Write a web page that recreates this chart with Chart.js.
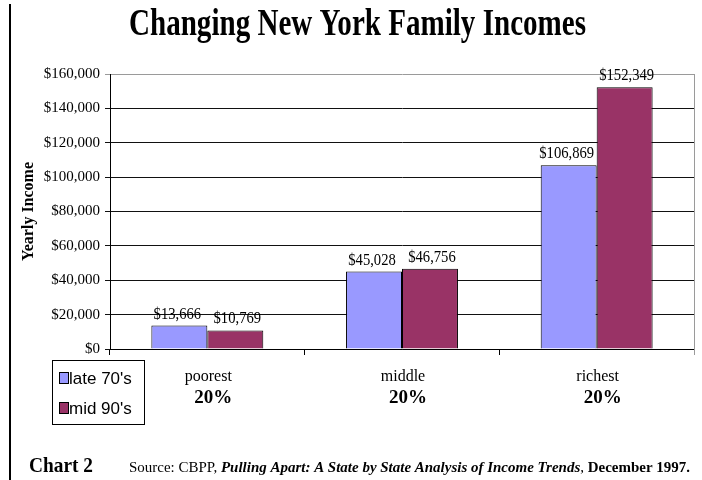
<!DOCTYPE html>
<html>
<head>
<meta charset="utf-8">
<script src="https://cdn.jsdelivr.net/npm/chart.js@4/dist/chart.umd.min.js"></script>
<style>
  html, body { margin: 0; padding: 0; background: #fff; }
  #wrap { width: 702px; height: 480px; }
</style>
</head>
<body>
<div id="wrap"><canvas id="c" width="702" height="480"></canvas></div>
<script>
// ---- data ----
const categories = ['poorest', 'middle', 'richest'];
const categorySub = ['20%', '20%', '20%'];
const seriesNames = ["late 70's", "mid 90's"];
const late70s = [13666, 45028, 106869];
const mid90s = [10769, 46756, 152349];
const yTickValues = [0, 20000, 40000, 60000, 80000, 100000, 120000, 140000, 160000];
const seriesColors = ['#9999FF', '#993366'];

const fmt = v => '$' + v.toLocaleString('en-US');
const SERIF = "'Liberation Serif', 'Times New Roman', serif";
const SANS = "'Liberation Sans', Arial, sans-serif";

function drawFitted(ctx, text, font, x, y, targetW) {
  ctx.font = font;
  const w = ctx.measureText(text).width;
  ctx.save();
  ctx.translate(x, y);
  ctx.scale(targetW / w, 1);
  ctx.fillText(text, 0, 0);
  ctx.restore();
}

const decor = {
  id: 'decor',
  afterDraw(chart) {
    const ctx = chart.ctx;
    const area = chart.chartArea;
    ctx.save();
    ctx.fillStyle = '#000';
    ctx.textAlign = 'left';
    ctx.textBaseline = 'alphabetic';

    // left vertical rule
    ctx.fillRect(9, 4, 2, 476);

    // right border of plot area
    ctx.strokeStyle = '#9a9a9a';
    ctx.lineWidth = 1;
    ctx.beginPath();
    ctx.moveTo(Math.round(area.right) + 0.5, area.top);
    ctx.lineTo(Math.round(area.right) + 0.5, area.bottom + 6);
    ctx.stroke();

    // title
    drawFitted(ctx, 'Changing New York Family Incomes', 'bold 38px ' + SERIF, 129, 35, 457);

    // category labels
    const xs = chart.scales.x;
    ctx.textAlign = 'center';
    ctx.textBaseline = 'middle';
    categories.forEach((c, i) => {
      const px = xs.getPixelForValue(i);
      ctx.font = '16px ' + SERIF;
      ctx.fillText(c, px + 1, 377);
      ctx.font = 'bold 19px ' + SERIF;
      ctx.fillText(categorySub[i], px + 6, 398);
    });

    // legend
    ctx.strokeStyle = '#000';
    ctx.lineWidth = 1;
    ctx.strokeRect(52.5, 360.5, 92, 64);
    const legY = [378, 408];
    seriesNames.forEach((n, i) => {
      ctx.fillStyle = seriesColors[i];
      ctx.fillRect(59.5, legY[i] - 5.5, 9, 11);
      ctx.strokeRect(59.5, legY[i] - 5.5, 9, 11);
      ctx.fillStyle = '#000';
      ctx.font = '17px ' + SANS;
      ctx.textAlign = 'left';
      ctx.textBaseline = 'middle';
      ctx.fillText(n, 69, legY[i] + 1);
    });

    // footer
    ctx.textBaseline = 'alphabetic';
    ctx.textAlign = 'left';
    drawFitted(ctx, 'Chart 2', 'bold 21px ' + SERIF, 29, 472, 64);

    const segs = [
      { t: 'Source: CBPP, ', f: '15px ' + SERIF },
      { t: 'Pulling Apart: A State by State Analysis of Income Trends', f: 'italic bold 15px ' + SERIF },
      { t: ', ', f: '15px ' + SERIF },
      { t: 'December 1997.', f: 'bold 15px ' + SERIF }
    ];
    let total = 0;
    segs.forEach(s => { ctx.font = s.f; s.w = ctx.measureText(s.t).width; total += s.w; });
    const sx = 561 / total;
    ctx.save();
    ctx.translate(129, 472);
    ctx.scale(sx, 1);
    let cx = 0;
    segs.forEach(s => { ctx.font = s.f; ctx.fillText(s.t, cx, 0); cx += s.w; });
    ctx.restore();

    ctx.restore();
  },
  afterDatasetsDraw(chart) {
    const ctx = chart.ctx;
    ctx.save();
    ctx.fillStyle = '#000';
    ctx.font = '17px ' + SERIF;
    ctx.textAlign = 'center';
    ctx.textBaseline = 'alphabetic';
    chart.data.datasets.forEach((ds, di) => {
      const meta = chart.getDatasetMeta(di);
      const shift = di === 0 ? -2 : 2;
      meta.data.forEach((bar, i) => {
        ctx.save();
        ctx.translate(bar.x + shift, bar.y - 7);
        ctx.scale(0.86, 1);
        ctx.fillText(fmt(ds.data[i]), 0, 0);
        ctx.restore();
      });
    });
    ctx.restore();
  }
};

new Chart(document.getElementById('c'), {
  type: 'bar',
  data: {
    labels: categories,
    datasets: [
      { label: seriesNames[0], data: late70s, backgroundColor: seriesColors[0], borderColor: '#000', borderWidth: 1 },
      { label: seriesNames[1], data: mid90s, backgroundColor: seriesColors[1], borderColor: '#000', borderWidth: 1 }
    ]
  },
  options: {
    responsive: false,
    animation: false,
    devicePixelRatio: 1,
    datasets: { bar: { categoryPercentage: 0.575, barPercentage: 1 } },
    layout: { padding: { top: 74, right: 8, left: 0, bottom: 0 } },
    plugins: {
      legend: { display: false },
      title: { display: false },
      tooltip: { enabled: false }
    },
    scales: {
      x: {
        offset: true,
        grid: { display: true, offset: true, drawOnChartArea: false, drawTicks: true, tickLength: 6, color: '#000' },
        border: { display: true, color: '#000', width: 1 },
        ticks: { display: false },
        afterFit(scale) { scale.height = 131; }
      },
      y: {
        min: 0,
        max: 160000,
        afterBuildTicks(scale) { scale.ticks = yTickValues.map(v => ({ value: v })); },
        grid: {
          color: c => (c.tick && c.tick.value === 160000) ? '#9a9a9a' : '#111',
          lineWidth: 1, drawTicks: true, tickLength: 5
        },
        border: { display: true, color: '#000', width: 1 },
        ticks: {
          color: '#000',
          font: { family: SERIF, size: 15 },
          padding: 5,
          callback: v => fmt(v)
        },
        title: {
          display: true,
          text: 'Yearly Income',
          color: '#000',
          font: { family: SERIF, size: 16, weight: 'bold' },
          padding: { top: 19, bottom: 0 }
        },
        afterFit(scale) { scale.width = 110; }
      }
    }
  },
  plugins: [decor]
});
</script>
</body>
</html>
